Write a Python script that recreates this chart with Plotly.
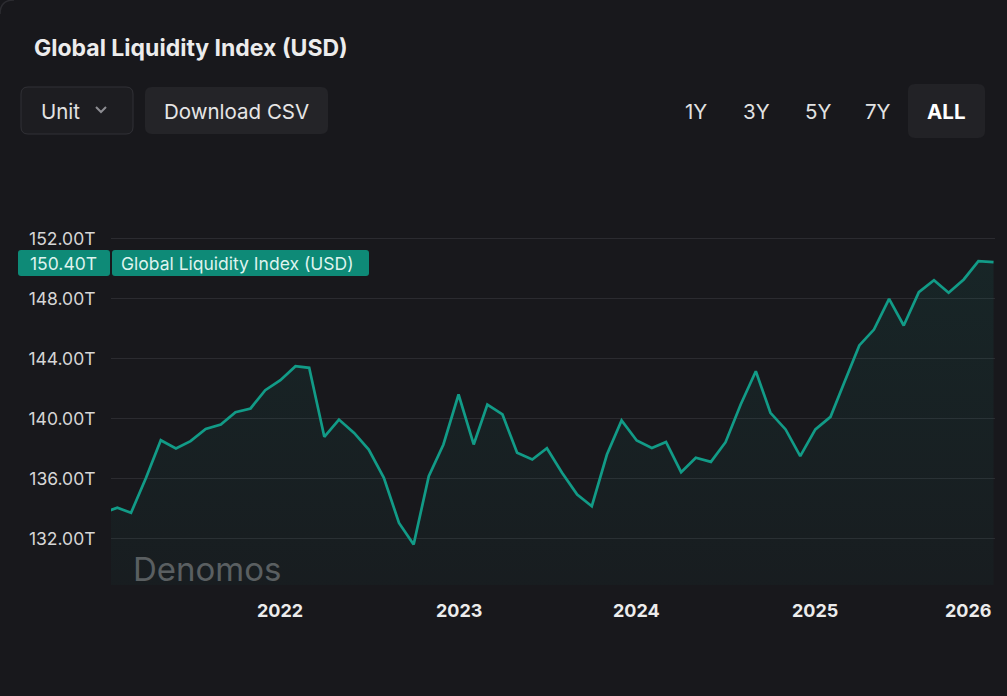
import pandas as pd
import plotly.graph_objects as go

# ---- data ----
dates = pd.date_range("2021-01-01", periods=61, freq="MS")
values = [
    133.7, 134.05, 133.71, 136.07, 138.55, 138.0, 138.49, 139.31, 139.6, 140.42, 140.67, 141.89,
    142.55, 143.49, 143.38, 138.78, 139.93, 139.04, 137.93, 136.04, 133.04, 131.6, 136.16, 138.27,
    141.6, 138.27, 140.93, 140.27, 137.71, 137.27, 138.02, 136.38, 134.93, 134.15, 137.6, 139.87,
    138.53, 138.04, 138.44, 136.42, 137.38, 137.11, 138.42, 140.93, 143.15, 140.38, 139.27, 137.49,
    139.27, 140.11, 142.38, 144.87, 145.93, 147.98, 146.2, 148.42, 149.22, 148.38, 149.27, 150.49,
    150.42,
]
y_ticks = [132, 136, 140, 144, 148, 152]
y_tick_labels = ["132.00T", "136.00T", "140.00T", "144.00T", "148.00T", "152.00T"]
year_ticks = ["2022-01-01", "2023-01-01", "2024-01-01", "2025-01-01", "2026-01-01"]
year_labels = ["2022", "2023", "2024", "2025", "2026"]
series_name = "Global Liquidity Index (USD)"
last_label = "150.40T"

# ---- layout geometry (pixels) ----
W, H = 1007, 696
L, R, T, B = 111, 995, 200, 585
PW, PH = R - L, B - T

def X(px):
    return (px - L) / PW

def Y(py):
    return (B - py) / PH

def rr(x0, y0, x1, y1, r):
    return (
        f"M{X(x0+r)},{Y(y0)} L{X(x1-r)},{Y(y0)} Q{X(x1)},{Y(y0)} {X(x1)},{Y(y0+r)} "
        f"L{X(x1)},{Y(y1-r)} Q{X(x1)},{Y(y1)} {X(x1-r)},{Y(y1)} "
        f"L{X(x0+r)},{Y(y1)} Q{X(x0)},{Y(y1)} {X(x0)},{Y(y1-r)} "
        f"L{X(x0)},{Y(y0+r)} Q{X(x0)},{Y(y0)} {X(x0+r)},{Y(y0)} Z"
    )

BG = "#18181c"
TEAL = "#129b87"
FONT = "Inter"

fig = go.Figure()
fig.add_trace(go.Scatter(
    x=dates, y=values, mode="lines",
    line=dict(color=TEAL, width=2.7),
    fill="tozeroy",
    fillgradient=dict(
        type="vertical",
        start=128.9, stop=151,
        colorscale=[[0, "rgba(20,160,140,0.035)"], [1, "rgba(20,160,140,0.10)"]],
    ),
    hoverinfo="skip",
    showlegend=False,
))

shapes = []
annotations = []

# card corner border
shapes.append(dict(type="path", xref="paper", yref="paper",
                   path=f"M{X(0)},{Y(14)} Q{X(0)},{Y(0)} {X(14)},{Y(0)}",
                   line=dict(color="#2c2c31", width=1.5), layer="above"))

# buttons
shapes.append(dict(type="path", xref="paper", yref="paper", path=rr(21, 87, 133, 134, 7),
                   fillcolor="#1d1d21", line=dict(color="#313136", width=1), layer="above"))
shapes.append(dict(type="path", xref="paper", yref="paper",
                   path=f"M{X(96)},{Y(107)} L{X(101)},{Y(112)} L{X(106)},{Y(107)}",
                   line=dict(color="#8d8d92", width=2), layer="above"))
shapes.append(dict(type="path", xref="paper", yref="paper", path=rr(145, 87, 328, 134, 7),
                   fillcolor="#242428", line=dict(width=0), layer="above"))
shapes.append(dict(type="path", xref="paper", yref="paper", path=rr(908, 84, 985, 138, 7),
                   fillcolor="#222226", line=dict(width=0), layer="above"))

# last value label
shapes.append(dict(type="path", xref="paper", yref="paper", path=rr(18, 250, 110, 276, 3),
                   fillcolor="#0e8a77", line=dict(width=0), layer="above"))
shapes.append(dict(type="path", xref="paper", yref="paper", path=rr(112, 250, 369, 276, 3),
                   fillcolor="#0e8a77", line=dict(width=0), layer="above"))

def txt(text, px, py, size, color, anchor="left", bold=False, family=FONT):
    annotations.append(dict(
        text=f"<b>{text}</b>" if bold else text,
        x=X(px), y=Y(py), xref="paper", yref="paper",
        xanchor=anchor, yanchor="middle", showarrow=False,
        font=dict(family=family, size=size, color=color),
    ))

txt("Global Liquidity Index (USD)", 32, 48, 23, "#ececec", bold=True)
txt("Unit", 39, 111, 20.5, "#e2e2e2")
txt("Download CSV", 236, 111, 20.5, "#e6e6e6", anchor="center")
for lab, cx in zip(["1Y", "3Y", "5Y", "7Y"], [696, 756, 818, 878]):
    txt(lab, cx, 111, 20.5, "#e2e2e2", anchor="center")
txt("ALL", 946, 111, 20.5, "#ffffff", anchor="center", bold=True)
txt(last_label, 63, 263, 17.5, "#dff3ee", anchor="center")
txt(series_name, 119, 263, 17.5, "#dff3ee")
txt("Denomos", 131, 569, 33, "#5a5f61")

# x-axis year labels
for d, lab in zip(year_ticks, year_labels):
    last = lab == year_labels[-1]
    annotations.append(dict(
        text=f"<b>{lab}</b>", x=d, y=Y(610), xref="x", yref="paper",
        xanchor="right" if last else "center", yanchor="middle", showarrow=False,
        font=dict(family=FONT, size=18, color="#ececec"),
    ))

fig.update_layout(
    width=W, height=H,
    margin=dict(l=L, r=W - R, t=T, b=H - B, pad=0),
    paper_bgcolor=BG, plot_bgcolor=BG,
    font=dict(family=FONT, color="#d6d6d6"),
    shapes=shapes, annotations=annotations,
    showlegend=False,
    xaxis=dict(
        range=["2021-01-19", "2026-01-04"], showgrid=False, zeroline=False,
        showticklabels=False, showline=False, fixedrange=True,
    ),
    yaxis=dict(
        range=[128.9, 128.9 + PH / 15.0], tickvals=y_ticks, ticktext=y_tick_labels,
        showgrid=True, gridcolor="#2b2b30", gridwidth=1, zeroline=False, showline=False,
        ticks="outside", ticklen=11, tickcolor="rgba(0,0,0,0)",
        tickfont=dict(family=FONT, size=17.5, color="#d6d6d6"), fixedrange=True,
    ),
)

fig.write_html(
    "out.html",
    config={"displayModeBar": False},
    post_script="document.body.style.margin='0';document.body.style.background='#18181c';document.body.style.overflow='hidden';",
)
